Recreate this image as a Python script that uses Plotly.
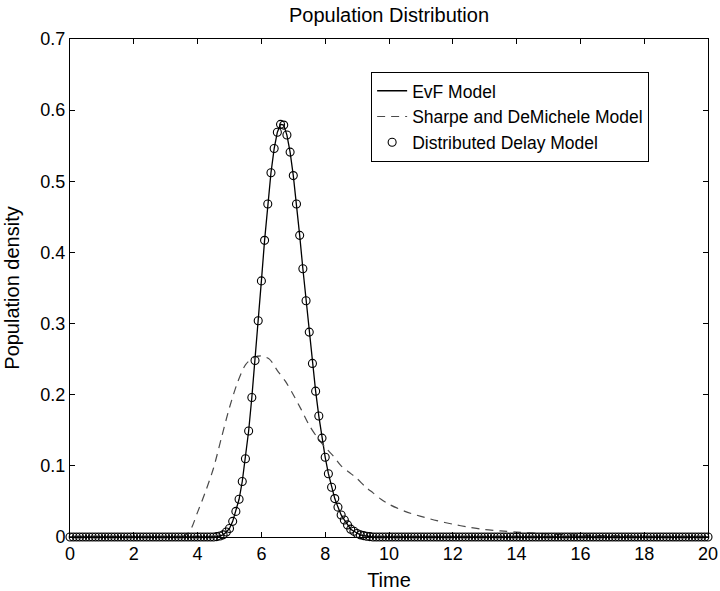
import plotly.graph_objects as go

# ---- data ----
time = [round(i * 0.1, 1) for i in range(201)]

evf_density = ([0.0] * 46 + [
    0.0005, 0.0015, 0.003, 0.007, 0.012, 0.022, 0.036, 0.053, 0.078, 0.110,
    0.149, 0.196, 0.248, 0.304, 0.360, 0.417, 0.468, 0.512, 0.546, 0.569,
    0.580, 0.579, 0.565, 0.541, 0.508, 0.468, 0.424, 0.377, 0.332, 0.288,
    0.244, 0.205, 0.170, 0.139, 0.112, 0.089, 0.070, 0.054, 0.042, 0.031,
    0.024, 0.017, 0.011, 0.008, 0.005, 0.003, 0.002, 0.001, 0.0005,
] + [0.0] * 106)

delay_density = list(evf_density)

sharpe_time = [0, 3.5, 3.75, 4.0, 4.25, 4.5, 4.75, 5.0, 5.25, 5.5, 5.75, 6.0,
               6.25, 6.5, 6.75, 7.0, 7.25, 7.5, 7.75, 8.0, 8.25, 8.5, 8.75,
               9.0, 9.25, 9.5, 9.75, 10.0, 10.5, 11.0, 11.5, 12.0, 12.5, 13.0,
               13.5, 14.0, 15.0, 16.0, 17.0, 18.0, 19.0, 20.0]
sharpe_density = [0.0, 0.0, 0.008, 0.035, 0.064, 0.097, 0.140, 0.182, 0.217,
                  0.242, 0.252, 0.2545, 0.250, 0.234, 0.219, 0.200, 0.179,
                  0.157, 0.140, 0.126, 0.114, 0.100, 0.091, 0.082, 0.071,
                  0.062, 0.053, 0.046, 0.036, 0.029, 0.023, 0.018, 0.0138,
                  0.0105, 0.0085, 0.0068, 0.0042, 0.0026, 0.0016, 0.001,
                  0.0006, 0.0004]

x_ticks = [0, 2, 4, 6, 8, 10, 12, 14, 16, 18, 20]
y_ticks = [0, 0.1, 0.2, 0.3, 0.4, 0.5, 0.6, 0.7]
y_tick_labels = ["0", "0.1", "0.2", "0.3", "0.4", "0.5", "0.6", "0.7"]

FONT = "Liberation Sans, Arial, Helvetica, sans-serif"

fig = go.Figure()
fig.add_trace(go.Scatter(
    x=time, y=evf_density, mode="lines", name="EvF Model",
    line=dict(color="black", width=1.3),
))
fig.add_trace(go.Scatter(
    x=sharpe_time, y=sharpe_density, mode="lines",
    name="Sharpe and DeMichele Model",
    line=dict(color="#4a4a4a", width=1.2, dash="8px,6px", shape="spline",
              smoothing=0.8),
))
fig.add_trace(go.Scatter(
    x=time, y=delay_density, mode="markers", name="Distributed Delay Model",
    marker=dict(symbol="circle-open", size=8, color="black",
                line=dict(width=1.1, color="black")),
    cliponaxis=False,
))

axis_common = dict(
    showgrid=False, zeroline=False, showline=True, linecolor="black",
    linewidth=1, mirror="ticks", ticks="inside", ticklen=5,
    tickcolor="black", tickwidth=1, automargin=False,
    tickfont=dict(family=FONT, size=18, color="black"),
)

fig.update_layout(
    width=720, height=591,
    margin=dict(l=70, r=12, t=39, b=54),
    paper_bgcolor="white", plot_bgcolor="white",
    font=dict(family=FONT, color="black"),
    title=dict(text="Population Distribution", x=0.5, xref="paper",
               y=0.974, yref="container", yanchor="middle",
               font=dict(family=FONT, size=20, color="black")),
    xaxis=dict(range=[0, 20], tickvals=x_ticks,
               title=dict(text="Time", font=dict(family=FONT, size=20)),
               **axis_common),
    yaxis=dict(range=[0, 0.7], tickvals=y_ticks, ticktext=y_tick_labels,
               title=dict(text="Population density",
                          font=dict(family=FONT, size=20)),
               **axis_common),
    legend=dict(x=0.472, y=0.934, xanchor="left", yanchor="top",
                bgcolor="white", bordercolor="black", borderwidth=1,
                font=dict(family=FONT, size=17.5, color="black"),
                itemwidth=30, tracegroupgap=0),
    showlegend=True,
)

fig.write_html("out.html")
